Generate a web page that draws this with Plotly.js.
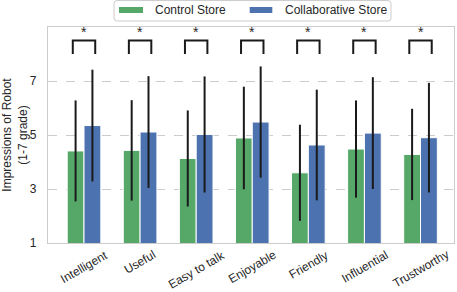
<!DOCTYPE html>
<html>
<head>
<meta charset="utf-8">
<script src="https://cdn.plot.ly/plotly-3.0.1.min.js"></script>
<style>html,body{margin:0;padding:0;background:#fff;}#chart{width:457px;height:292px;}</style>
</head>
<body>
<div id="chart"></div>
<script>
const categories = ['Intelligent', 'Useful', 'Easy to talk', 'Enjoyable', 'Friendly', 'Influential', 'Trustworthy'];
const controlMean = [4.41, 4.43, 4.13, 4.89, 3.60, 4.48, 4.28];
const controlSD = [1.87, 1.86, 1.78, 1.90, 1.78, 1.80, 1.69];
const collabMean = [5.35, 5.11, 5.02, 5.48, 4.63, 5.07, 4.90];
const collabSD = [2.07, 2.07, 2.15, 2.06, 2.05, 2.07, 2.03];
const significance = ['*', '*', '*', '*', '*', '*', '*'];
const seriesNames = ['Control Store', 'Collaborative Store'];
const seriesColors = ['#55A868', '#4C72B0'];
const yTicks = [1, 3, 5, 7];

const FONT = 'Liberation Sans, Arial, sans-serif';
const TXT = '#262626';
const idx = categories.map((_, i) => i);

const errStyle = {type: 'data', visible: true, thickness: 2, width: 0, color: '#1a1a1a'};

const control = {
  type: 'bar', name: seriesNames[0], x: idx, y: controlMean, showlegend: false,
  marker: {color: seriesColors[0], line: {color: '#ffffff', width: 1}},
  error_y: Object.assign({array: controlSD}, errStyle)
};
const collab = {
  type: 'bar', name: seriesNames[1], x: idx, y: collabMean, showlegend: false,
  marker: {color: seriesColors[1], line: {color: '#ffffff', width: 1}},
  error_y: Object.assign({array: collabSD}, errStyle)
};

const bx = [], by = [];
idx.forEach(i => {
  bx.push(i - 0.2, i - 0.2, i + 0.2, i + 0.2, null);
  by.push(8.0, 8.5, 8.5, 8.0, null);
});
const brackets = {
  type: 'scatter', mode: 'lines', x: bx, y: by, showlegend: false, hoverinfo: 'skip',
  line: {color: '#1a1a1a', width: 2}
};

const annotations = [];
idx.forEach(i => {
  annotations.push({
    x: i, xref: 'x', y: 0, yref: 'paper', yshift: -2, text: categories[i],
    textangle: -30, showarrow: false, xanchor: 'center', yanchor: 'top',
    font: {family: FONT, size: 12, color: TXT}
  });
  annotations.push({
    x: i, xref: 'x', y: 8.5, yref: 'y', yshift: -1, text: significance[i], showarrow: false,
    xanchor: 'center', yanchor: 'bottom', font: {family: FONT, size: 14, color: TXT}
  });
});

// legend (drawn in paper coordinates above the plot)
const legSwatchX = [[0.1749, 0.2340], [0.4968, 0.5525]];
const legTextX = [0.2586, 0.5788];
const bx0 = 0.1626, bx1 = 0.8448, by0 = 1.0278, by1 = 1.1225, rx = 0.0074, ry = 0.0139;
const boxPath = `M ${bx0 + rx},${by1} L ${bx1 - rx},${by1} Q ${bx1},${by1} ${bx1},${by1 - ry} ` +
  `L ${bx1},${by0 + ry} Q ${bx1},${by0} ${bx1 - rx},${by0} L ${bx0 + rx},${by0} ` +
  `Q ${bx0},${by0} ${bx0},${by0 + ry} L ${bx0},${by1 - ry} Q ${bx0},${by1} ${bx0 + rx},${by1} Z`;
const shapes = [{
  type: 'path', xref: 'paper', yref: 'paper', path: boxPath,
  line: {color: '#cccccc', width: 1}, fillcolor: '#ffffff', layer: 'above'
}];
seriesNames.forEach((n, k) => {
  shapes.push({
    type: 'rect', xref: 'paper', yref: 'paper', x0: legSwatchX[k][0], x1: legSwatchX[k][1],
    y0: 1.0648, y1: 1.0926, line: {width: 0}, fillcolor: seriesColors[k], layer: 'above'
  });
  annotations.push({
    x: legTextX[k], xref: 'paper', y: 1.0764, yref: 'paper', text: n, showarrow: false,
    xanchor: 'left', yanchor: 'middle', font: {family: FONT, size: 12, color: TXT}
  });
});

const layout = {
  width: 457, height: 292,
  margin: {l: 48, r: 3, t: 27, b: 49},
  paper_bgcolor: '#ffffff', plot_bgcolor: '#ffffff',
  font: {family: FONT, size: 12, color: TXT},
  barmode: 'group', bargap: 0.4, bargroupgap: 0,
  showlegend: false,
  xaxis: {
    range: [-0.642, 6.597], tickvals: idx, ticktext: categories.map(() => ''),
    showgrid: false, zeroline: false, showline: true, mirror: true,
    linecolor: '#cccccc', linewidth: 1.25, ticks: ''
  },
  yaxis: {
    range: [1, 9], tickvals: yTicks, ticktext: yTicks.map(String),
    showgrid: true, gridcolor: '#cccccc', griddash: 'dash', gridwidth: 1,
    zeroline: false, showline: true, mirror: true, linecolor: '#cccccc', linewidth: 1.25,
    ticks: '', ticklabelstandoff: 8,
    tickfont: {family: FONT, size: 12, color: TXT},
    title: {text: 'Impressions of Robot<br>(1-7 grade)', font: {family: FONT, size: 12, color: TXT}, standoff: 6}
  },
  shapes: shapes,
  annotations: annotations
};

Plotly.newPlot('chart', [control, collab, brackets], layout, {displayModeBar: false, staticPlot: true});
</script>
</body>
</html>
